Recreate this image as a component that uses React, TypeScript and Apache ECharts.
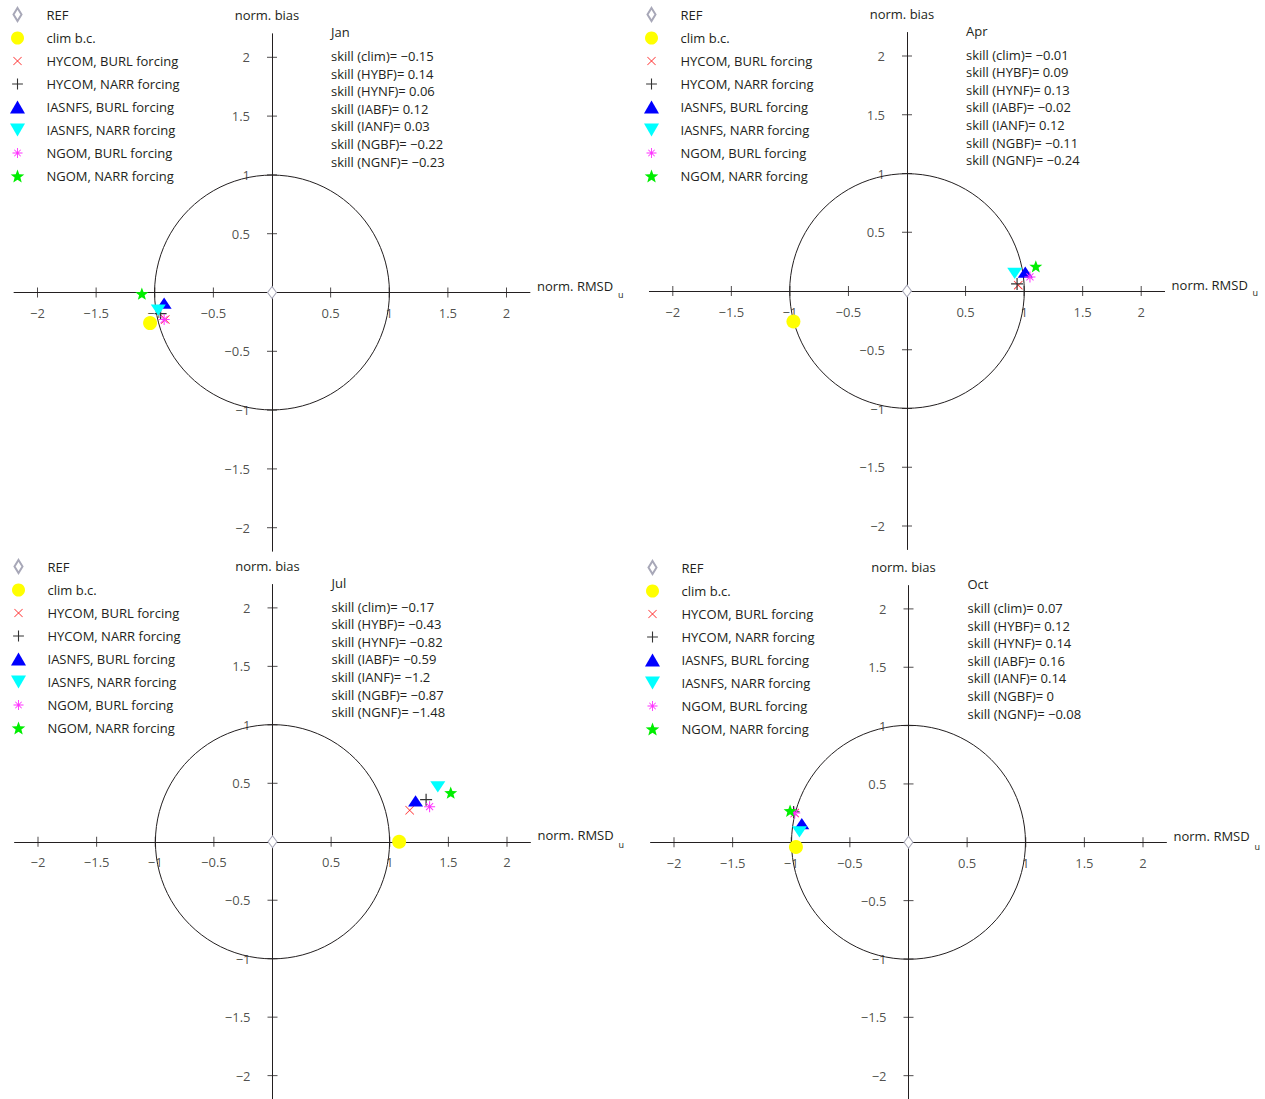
import React, { useEffect, useRef } from "react";
import * as echarts from "echarts";

// ---------- data ----------
const SERIES_NAMES = [
  "REF",
  "clim b.c.",
  "HYCOM, BURL forcing",
  "HYCOM, NARR forcing",
  "IASNFS, BURL forcing",
  "IASNFS, NARR forcing",
  "NGOM, BURL forcing",
  "NGOM, NARR forcing",
];
const SKILL_KEYS = ["clim", "HYBF", "HYNF", "IABF", "IANF", "NGBF", "NGNF"];
const MONTHS = ["Jan", "Apr", "Jul", "Oct"];

// [norm. RMSD_u, norm. bias] per series, in SERIES_NAMES order
const janPoints = [
  [0, 0],
  [-1.04, -0.26],
  [-0.91, -0.23],
  [-0.95, -0.18],
  [-0.92, -0.09],
  [-0.97, -0.15],
  [-0.92, -0.23],
  [-1.11, -0.01],
];
const aprPoints = [
  [0, 0],
  [-0.97, -0.26],
  [0.95, 0.05],
  [0.94, 0.06],
  [1.01, 0.16],
  [0.92, 0.15],
  [1.05, 0.12],
  [1.1, 0.21],
];
const julPoints = [
  [0, 0],
  [1.08, 0.0],
  [1.17, 0.27],
  [1.31, 0.36],
  [1.22, 0.35],
  [1.41, 0.47],
  [1.34, 0.3],
  [1.52, 0.42],
];
const octPoints = [
  [0, 0],
  [-0.96, -0.04],
  [-0.97, 0.25],
  [-0.98, 0.26],
  [-0.91, 0.16],
  [-0.93, 0.09],
  [-0.97, 0.25],
  [-1.01, 0.27],
];

const janSkill = [-0.15, 0.14, 0.06, 0.12, 0.03, -0.22, -0.23];
const aprSkill = [-0.01, 0.09, 0.13, -0.02, 0.12, -0.11, -0.24];
const julSkill = [-0.17, -0.43, -0.82, -0.59, -1.2, -0.87, -1.48];
const octSkill = [0.07, 0.12, 0.14, 0.16, 0.14, 0, -0.08];

const TICK_VALUES = [-2, -1.5, -1, -0.5, 0.5, 1, 1.5, 2];
const TICK_LABELS = ["−2", "−1.5", "−1", "−0.5", "0.5", "1", "1.5", "2"];
const REF_RADIUS = 1;
const AXIS_MIN = -2.2;
const AXIS_MAX = 2.2;

// ---------- styles / layout ----------
const FONT = "'Open Sans', 'Noto Sans', sans-serif";
const INK = "#231f20";

// panel origins (pixel) and scale (px per unit)
const PANELS = [
  { cx: 272, cy: 292.5, sx: 117.25, sy: 117.6, legendLeft: 10, legendTop: 7 },
  { cx: 907, cy: 291, sx: 117.1, sy: 117.5, legendLeft: 644, legendTop: 7 },
  { cx: 272.5, cy: 843, sx: 117.25, sy: 117.5, legendLeft: 11, legendTop: 559 },
  { cx: 908.5, cy: 844.5, sx: 117.25, sy: 117.7, legendLeft: 645, legendTop: 560 },
];

const XMARK = "path://M0 0.6L0.6 0L10 9.4L9.4 10ZM9.4 0L10 0.6L0.6 10L0 9.4Z";
const PLUS = "path://M4.5 0L5.5 0L5.5 10L4.5 10ZM0 4.5L10 4.5L10 5.5L0 5.5Z";
const ASTER =
  "path://M4.55 0L5.45 0L5.45 10L4.55 10ZM0 4.55L10 4.55L10 5.45L0 5.45ZM1.5 2.1L2.1 1.5L8.5 7.9L7.9 8.5ZM7.9 1.5L8.5 2.1L2.1 8.5L1.5 7.9Z";
const STAR =
  "path://M5 0L6.234 3.301L9.755 3.455L6.997 5.649L7.939 9.045L5 7.1L2.061 9.045L3.003 5.649L0.245 3.455L3.766 3.301Z";
const UP_TRI = "path://M5 0L10 8.66L0 8.66Z";
const DOWN_TRI = "path://M0 0L10 0L5 8.66Z";

// legend icons padded so they look smaller in the 13px legend box
const XMARK_LEG = "path://M-2.5 -2.5M12.5 12.5M0 0.6L0.6 0L10 9.4L9.4 10ZM9.4 0L10 0.6L0.6 10L0 9.4Z";
const PLUS_LEG = "path://M-1 -1M11 11M4.5 0L5.5 0L5.5 10L4.5 10ZM0 4.5L10 4.5L10 5.5L0 5.5Z";
const ASTER_LEG =
  "path://M-1.5 -1.5M11.5 11.5M4.55 0L5.45 0L5.45 10L4.55 10ZM0 4.55L10 4.55L10 5.45L0 5.45ZM1.5 2.1L2.1 1.5L8.5 7.9L7.9 8.5ZM7.9 1.5L8.5 2.1L2.1 8.5L1.5 7.9Z";
const DIAMOND_LEG = "path://M-1.5 0M11.5 0M5 0L9 6.5L5 13L1 6.5Z";

const SERIES_STYLE: any[] = [
  { symbol: "diamond", size: [9, 12], color: "#ffffff", border: "#a8a8b8", bw: 1, legendIcon: DIAMOND_LEG },
  { symbol: "circle", size: 14, color: "#ffff00", legendIcon: "circle" },
  { symbol: XMARK, size: 9, color: "#ff3030", legendIcon: XMARK_LEG },
  { symbol: PLUS, size: 12, color: "#333333", legendIcon: PLUS_LEG },
  { symbol: UP_TRI, size: [15, 13], color: "#0000ff", legendIcon: UP_TRI },
  { symbol: DOWN_TRI, size: [15, 13], color: "#00ffff", legendIcon: DOWN_TRI },
  { symbol: ASTER, size: 11, color: "#ff33ff", legendIcon: ASTER_LEG },
  { symbol: STAR, size: 13, color: "#00ee00", legendIcon: STAR },
];

const ALL_POINTS = [janPoints, aprPoints, julPoints, octPoints];
const ALL_SKILL = [janSkill, aprSkill, julSkill, octSkill];

const fmt = (v: number) => (v < 0 ? "−" + String(-v) : String(v));

export default function App() {
  const ref = useRef<HTMLDivElement>(null);

  useEffect(() => {
    if (!ref.current) return;
    const chart = echarts.init(ref.current, undefined, { renderer: "svg" });

    const grid: any[] = [];
    const xAxis: any[] = [];
    const yAxis: any[] = [];
    const series: any[] = [];
    const legend: any[] = [];
    const graphic: any[] = [];

    PANELS.forEach((p, i) => {
      grid.push({
        left: p.cx + AXIS_MIN * p.sx,
        top: p.cy - AXIS_MAX * p.sy,
        width: (AXIS_MAX - AXIS_MIN) * p.sx,
        height: (AXIS_MAX - AXIS_MIN) * p.sy,
        containLabel: false,
      });
      xAxis.push({
        type: "value",
        gridIndex: i,
        min: AXIS_MIN,
        max: AXIS_MAX,
        axisLine: { show: true, onZero: true, lineStyle: { color: INK, width: 1 } },
        axisTick: { show: false },
        axisLabel: { show: false },
        splitLine: { show: false },
        name: "norm. RMSD",
        nameLocation: "end",
        nameGap: 7,
        nameTextStyle: { fontFamily: FONT, fontSize: 13, color: INK, verticalAlign: "bottom", lineHeight: 13 },
      });
      yAxis.push({
        type: "value",
        gridIndex: i,
        min: AXIS_MIN,
        max: AXIS_MAX,
        axisLine: { show: true, onZero: true, lineStyle: { color: INK, width: 1 } },
        axisTick: { show: false },
        axisLabel: { show: false },
        splitLine: { show: false },
        name: "norm. bias",
        nameLocation: "end",
        nameGap: 12,
        nameTextStyle: { fontFamily: FONT, fontSize: 13, color: INK, padding: [0, 10, 0, 0] },
      });

      // unit reference circle
      series.push({
        type: "custom",
        name: "_circle" + i,
        xAxisIndex: i,
        yAxisIndex: i,
        silent: true,
        clip: false,
        z: 1,
        data: [[0, 0, REF_RADIUS]],
        renderItem: (params: any, api: any) => {
          const c = api.coord([api.value(0), api.value(1)]);
          const e = api.coord([api.value(0) + api.value(2), api.value(1) + api.value(2)]);
          const r = ((e[0] - c[0]) + (c[1] - e[1])) / 2;
          return {
            type: "circle",
            shape: { cx: c[0], cy: c[1], r },
            style: { fill: "none", stroke: INK, lineWidth: 1 },
          };
        },
      });

      // crossing tick marks with labels
      series.push({
        type: "scatter",
        name: "_xticks" + i,
        xAxisIndex: i,
        yAxisIndex: i,
        silent: true,
        z: 1,
        symbol: "rect",
        symbolSize: [1, 10],
        itemStyle: { color: INK },
        label: {
          show: true,
          position: "bottom",
          distance: 9,
          formatter: "{b}",
          fontFamily: FONT,
          fontSize: 13,
          color: INK,
        },
        data: TICK_VALUES.map((t, k) => ({ name: TICK_LABELS[k], value: [t, 0] })),
      });
      series.push({
        type: "scatter",
        name: "_yticks" + i,
        xAxisIndex: i,
        yAxisIndex: i,
        silent: true,
        z: 1,
        symbol: "rect",
        symbolSize: [10, 1],
        itemStyle: { color: INK },
        label: {
          show: true,
          position: "left",
          distance: 17,
          formatter: "{b}",
          fontFamily: FONT,
          fontSize: 13,
          color: INK,
        },
        data: TICK_VALUES.map((t, k) => ({ name: TICK_LABELS[k], value: [0, t] })),
      });

      // model markers
      SERIES_NAMES.forEach((name, s) => {
        const st = SERIES_STYLE[s];
        series.push({
          type: "scatter",
          name,
          xAxisIndex: i,
          yAxisIndex: i,
          symbol: st.symbol,
          symbolSize: st.size,
          symbolKeepAspect: true,
          itemStyle: {
            color: st.color,
            opacity: 1,
            borderColor: st.border || st.color,
            borderWidth: st.bw || 0,
          },
          z: 3 + s,
          data: [ALL_POINTS[i][s]],
        });
      });

      legend.push({
        orient: "vertical",
        left: p.legendLeft,
        top: p.legendTop,
        padding: 0,
        itemWidth: 48,
        itemHeight: 13,
        itemGap: 9,
        selectedMode: false,
        textStyle: { fontFamily: FONT, fontSize: 13, color: INK, lineHeight: 14 },
        data: SERIES_NAMES.map((n, s) => ({ name: n, icon: SERIES_STYLE[s].legendIcon })),
      });

      // month + skill text
      const tx = p.cx + 59;
      graphic.push({
        type: "text",
        left: tx,
        top: p.cy - 259 - 8,
        style: { text: MONTHS[i], fontFamily: FONT, fontSize: 13, fill: INK },
      });
      ALL_SKILL[i].forEach((v, k) => {
        graphic.push({
          type: "text",
          left: tx,
          top: p.cy - 236 - 7 + k * 17.6,
          style: {
            text: "skill (" + SKILL_KEYS[k] + ")= " + fmt(v),
            fontFamily: FONT,
            fontSize: 13,
            fill: INK,
          },
        });
      });
      // subscript of the x-axis name
      graphic.push({
        type: "text",
        left: p.cx + AXIS_MAX * p.sx + 88,
        top: p.cy - 3,
        style: { text: "u", fontFamily: FONT, fontSize: 9, fill: INK },
      });
    });

    chart.setOption({
      animation: false,
      backgroundColor: "#ffffff",
      textStyle: { fontFamily: FONT },
      grid,
      xAxis,
      yAxis,
      legend,
      series,
      graphic,
    });

    return () => chart.dispose();
  }, []);

  return (
    <div
      ref={ref}
      style={{ position: "absolute", left: 0, top: 0, width: 1265, height: 1099 }}
    />
  );
}
